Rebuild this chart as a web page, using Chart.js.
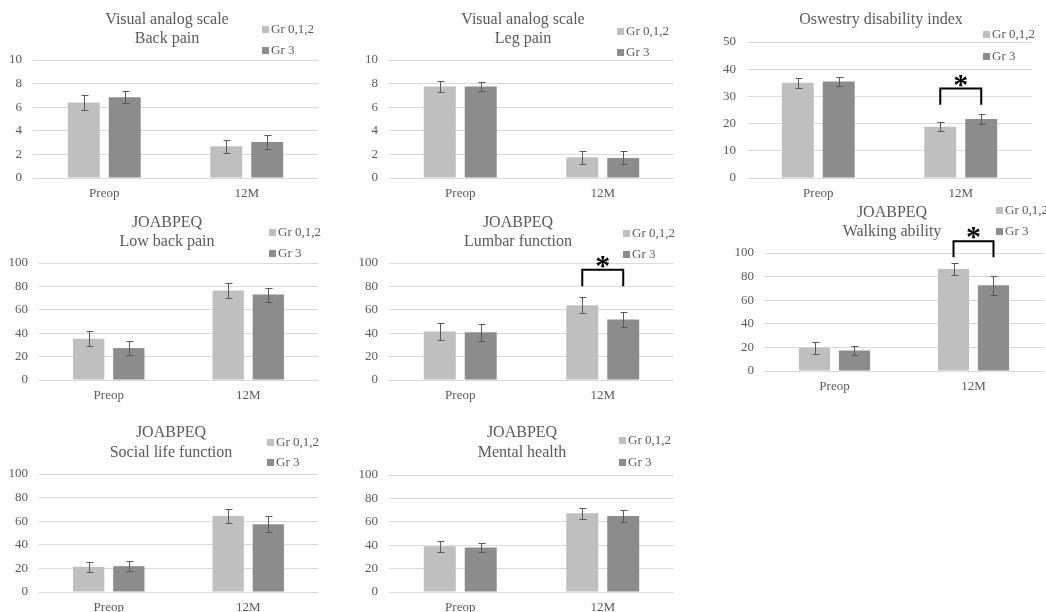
<!DOCTYPE html>
<html>
<head>
    <title>Gr 0,1,2 vs Gr 3</title>
    <script src="https://cdn.jsdelivr.net/npm/chart.js@4.4.0/dist/chart.umd.min.js"></script>
    <style>
        body { margin: 0; background: #fff; overflow: hidden; }
        canvas { position: absolute; }
    </style>
</head>
<body>
<script>
    var categories = ['Preop', '12M'];
    var groups = ['Gr 0,1,2', 'Gr 3'];

    // means and SE (Preop, 12M)
    var vasBackG012 = [6.4, 2.7],   vasBackErr012 = [0.6, 0.55];
    var vasBackG3 = [6.85, 3.05],   vasBackErr3 = [0.5, 0.6];

    var vasLegG012 = [7.75, 1.75],  vasLegErr012 = [0.5, 0.55];
    var vasLegG3 = [7.75, 1.7],     vasLegErr3 = [0.4, 0.55];

    var odiG012 = [35.0, 18.8],     odiErr012 = [1.8, 1.7];
    var odiG3 = [35.5, 21.7],       odiErr3 = [1.8, 1.7];

    var lbpG012 = [35.2, 76.4],     lbpErr012 = [6.5, 6.5];
    var lbpG3 = [27.3, 73.0],       lbpErr3 = [5.7, 6.0];

    var lumbarG012 = [41.5, 63.9],  lumbarErr012 = [7.5, 7.0];
    var lumbarG3 = [40.9, 51.7],    lumbarErr3 = [7.2, 6.7];

    var walkG012 = [19.6, 86.4],    walkErr012 = [5.0, 5.3];
    var walkG3 = [17.3, 72.7],      walkErr3 = [3.8, 8.1];

    var socialG012 = [21.3, 64.5],  socialErr012 = [4.3, 6.1];
    var socialG3 = [21.9, 57.4],    socialErr3 = [4.4, 6.7];

    var mentalG012 = [39.1, 67.4],  mentalErr012 = [4.9, 4.6];
    var mentalG3 = [38.0, 64.9],    mentalErr3 = [4.1, 5.0];

    // significance brackets: [category index, bracket top value, leg end value]
    var odiSig = [1, 32.9, 26.9];
    var lumbarSig = [1, 94.3, 80.1];
    var walkSig = [1, 110, 96.3];

    var textColor = '#595959';
    var serif = '"Liberation Serif", "Times New Roman", serif';

    // canvas box [left, top, w, h], chart area [left, top, right, bottom] in page px
    var panels = [
        { title: ['Visual analog scale', 'Back pain'], a: vasBackG012, b: vasBackG3, ea: vasBackErr012, eb: vasBackErr3,
          max: 10, step: 2, box: [0, 0, 350, 205], area: [33, 60, 318, 178], tx: 167, ty: [20, 39], lx: 262, ly: [29, 50] },
        { title: ['Visual analog scale', 'Leg pain'], a: vasLegG012, b: vasLegG3, ea: vasLegErr012, eb: vasLegErr3,
          max: 10, step: 2, box: [350, 0, 350, 205], area: [389, 60, 674, 178], tx: 523, ty: [20, 39], lx: 617, ly: [31, 52] },
        { title: ['Oswestry disability index'], a: odiG012, b: odiG3, ea: odiErr012, eb: odiErr3, sig: odiSig,
          max: 50, step: 10, box: [700, 0, 346, 205], area: [747, 42, 1032, 178], tx: 881, ty: [20], lx: 983, ly: [34, 56] },
        { title: ['JOABPEQ', 'Low back pain'], a: lbpG012, b: lbpG3, ea: lbpErr012, eb: lbpErr3,
          max: 100, step: 20, box: [0, 205, 350, 205], area: [39, 263, 318, 380], tx: 167, ty: [223, 242], lx: 269, ly: [232, 253] },
        { title: ['JOABPEQ', 'Lumbar function'], a: lumbarG012, b: lumbarG3, ea: lumbarErr012, eb: lumbarErr3, sig: lumbarSig,
          max: 100, step: 20, box: [350, 205, 350, 205], area: [389, 263, 674, 380], tx: 518, ty: [223, 242], lx: 623, ly: [233, 254] },
        { title: ['JOABPEQ', 'Walking ability'], a: walkG012, b: walkG3, ea: walkErr012, eb: walkErr3, sig: walkSig,
          max: 100, step: 20, box: [700, 198, 346, 200], area: [765, 253, 1043, 371], tx: 892, ty: [213, 232], lx: 996, ly: [210, 231] },
        { title: ['JOABPEQ', 'Social life function'], a: socialG012, b: socialG3, ea: socialErr012, eb: socialErr3,
          max: 100, step: 20, box: [0, 410, 350, 210], area: [39, 474, 318, 592], tx: 171, ty: [433, 453], lx: 267, ly: [442, 462] },
        { title: ['JOABPEQ', 'Mental health'], a: mentalG012, b: mentalG3, ea: mentalErr012, eb: mentalErr3,
          max: 100, step: 20, box: [350, 410, 350, 210], area: [389, 475, 674, 592], tx: 522, ty: [433, 453], lx: 619, ly: [440, 462] }
    ];

    var errorBars = {
        id: 'errorBars',
        afterDatasetsDraw: function (chart) {
            var ctx = chart.ctx, y = chart.scales.y;
            ctx.save();
            ctx.strokeStyle = '#595959';
            ctx.lineWidth = 1;
            chart.data.datasets.forEach(function (ds, i) {
                chart.getDatasetMeta(i).data.forEach(function (bar, j) {
                    var hi = Math.round(y.getPixelForValue(ds.data[j] + ds.errs[j])) + 0.5;
                    var lo = Math.round(y.getPixelForValue(ds.data[j] - ds.errs[j])) + 0.5;
                    var x = Math.round(bar.x) + 0.5;
                    ctx.beginPath();
                    ctx.moveTo(x, hi); ctx.lineTo(x, lo);
                    ctx.moveTo(x - 3, hi); ctx.lineTo(x + 4, hi);
                    ctx.moveTo(x - 3, lo); ctx.lineTo(x + 4, lo);
                    ctx.stroke();
                });
            });
            ctx.restore();
        }
    };

    var panelText = {
        id: 'panelText',
        afterDraw: function (chart, args, o) {
            var ctx = chart.ctx, p = o.p, ox = p.box[0], oy = p.box[1];
            ctx.save();
            ctx.fillStyle = textColor;
            ctx.textBaseline = 'middle';
            ctx.textAlign = 'center';
            ctx.font = '16px ' + serif;
            p.title.forEach(function (t, i) {
                ctx.fillText(t, p.tx - ox, p.ty[i] - oy);
            });
            // legend
            ctx.textAlign = 'left';
            ctx.font = '13px ' + serif;
            chart.data.datasets.forEach(function (ds, i) {
                ctx.fillStyle = ds.backgroundColor;
                ctx.fillRect(p.lx - ox, p.ly[i] - oy - 3, 7, 7);
                ctx.fillStyle = textColor;
                ctx.fillText(ds.label, p.lx - ox + 9, p.ly[i] - oy + 1);
            });
            // significance bracket
            if (p.sig) {
                var y = chart.scales.y, k = p.sig[0];
                var x1 = chart.getDatasetMeta(0).data[k].x;
                var x2 = chart.getDatasetMeta(1).data[k].x;
                var top = y.getPixelForValue(p.sig[1]);
                var leg = y.getPixelForValue(p.sig[2]);
                ctx.strokeStyle = '#000';
                ctx.lineWidth = 2;
                ctx.beginPath();
                ctx.moveTo(x1, leg); ctx.lineTo(x1, top); ctx.lineTo(x2, top); ctx.lineTo(x2, leg);
                ctx.stroke();
                ctx.fillStyle = '#000';
                ctx.textAlign = 'center';
                ctx.textBaseline = 'alphabetic';
                ctx.font = 'bold 30px ' + serif;
                ctx.fillText('*', (x1 + x2) / 2, top + 5);
            }
            ctx.restore();
        }
    };

    panels.forEach(function (p) {
        var cv = document.createElement('canvas');
        cv.width = p.box[2];
        cv.height = p.box[3];
        cv.style.left = p.box[0] + 'px';
        cv.style.top = p.box[1] + 'px';
        document.body.appendChild(cv);
        var yw = p.area[0] - p.box[0];
        var xh = 26;
        new Chart(cv, {
            type: 'bar',
            data: {
                labels: categories,
                datasets: [
                    { label: groups[0], data: p.a, errs: p.ea, backgroundColor: '#bfbfbf' },
                    { label: groups[1], data: p.b, errs: p.eb, backgroundColor: '#8c8c8c' }
                ]
            },
            options: {
                responsive: false,
                animation: false,
                layout: {
                    padding: {
                        left: 0,
                        right: p.box[0] + p.box[2] - p.area[2],
                        top: p.area[1] - p.box[1],
                        bottom: p.box[1] + p.box[3] - p.area[3] - xh
                    }
                },
                datasets: { bar: { categoryPercentage: 0.575, barPercentage: 0.78 } },
                plugins: {
                    legend: { display: false },
                    title: { display: false },
                    tooltip: { enabled: false },
                    panelText: { p: p }
                },
                scales: {
                    x: {
                        grid: { display: false, drawTicks: false },
                        border: { display: false },
                        ticks: { color: textColor, font: { family: serif, size: 13 }, padding: 8 },
                        afterFit: function (s) { s.height = xh; }
                    },
                    y: {
                        min: 0,
                        max: p.max,
                        ticks: { stepSize: p.step, color: textColor, font: { family: serif, size: 13 }, padding: 11 },
                        grid: { color: '#d9d9d9', drawTicks: false },
                        border: { display: false },
                        afterFit: function (s) { s.width = yw; }
                    }
                }
            },
            plugins: [errorBars, panelText]
        });
    });
</script>
</body>
</html>
